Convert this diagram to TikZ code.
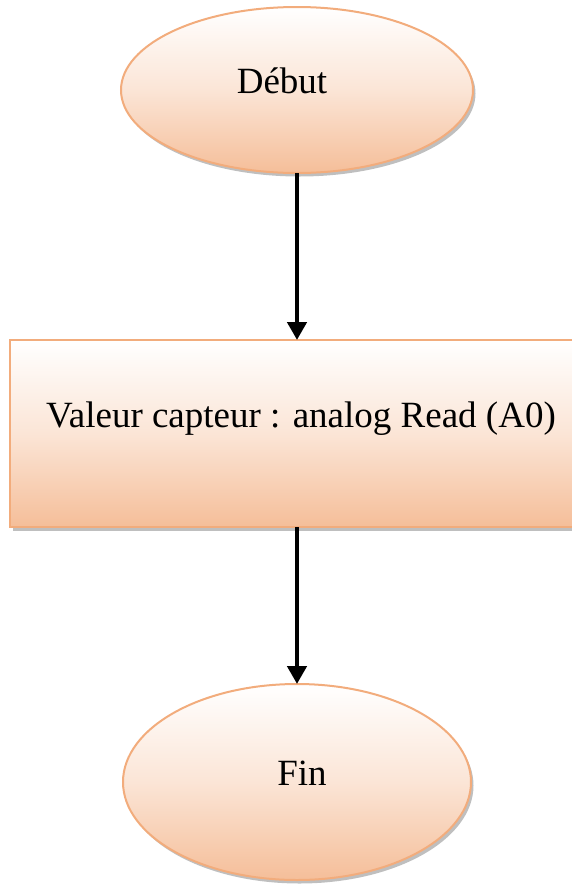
\documentclass[tikz,border=0pt]{standalone}
\usepackage{fontspec}
\setmainfont{Liberation Serif}
\usetikzlibrary{shapes.geometric,shadows,arrows.meta}

\definecolor{peche}{HTML}{F5BE99}
\definecolor{bord}{HTML}{F2AC7C}

\tikzset{
    boite/.style={draw=bord, line width=2pt, top color=white, bottom color=peche,
        middle color=peche!40, inner sep=0pt, outer sep=0pt,
        drop shadow={shadow xshift=2.5pt, shadow yshift=-3.5pt, fill=black!50},
        font=\fontsize{37}{44}\selectfont, text height=27pt, text depth=21pt},
    terminal/.style={boite, ellipse},
    fleche/.style={line width=4.5pt, -{Triangle[length=18pt,width=19pt]}}
}

\begin{document}
\begin{tikzpicture}[x=1pt, y=-1pt]
    \useasboundingbox (0,0) rectangle (572,884);
    \node[terminal, minimum width=352pt, minimum height=166pt] (debut) at (297,90) {Début\hspace*{30pt}};
    \node[boite, rectangle, minimum width=582pt, minimum height=187pt, text depth=40pt] (lecture) at (301,433.5)
        {Valeur capteur : analog Read (A0)};
    \node[terminal, minimum width=348pt, minimum height=196pt] (fin) at (297,782) {\hspace*{10pt}Fin};
    % 矢印で各ステップを上から順につなぐ
    \draw[fleche] (debut.south) -- (debut.south |- lecture.north);
    \draw[fleche] (fin.north |- lecture.south) -- (fin.north);
\end{tikzpicture}
\end{document}
